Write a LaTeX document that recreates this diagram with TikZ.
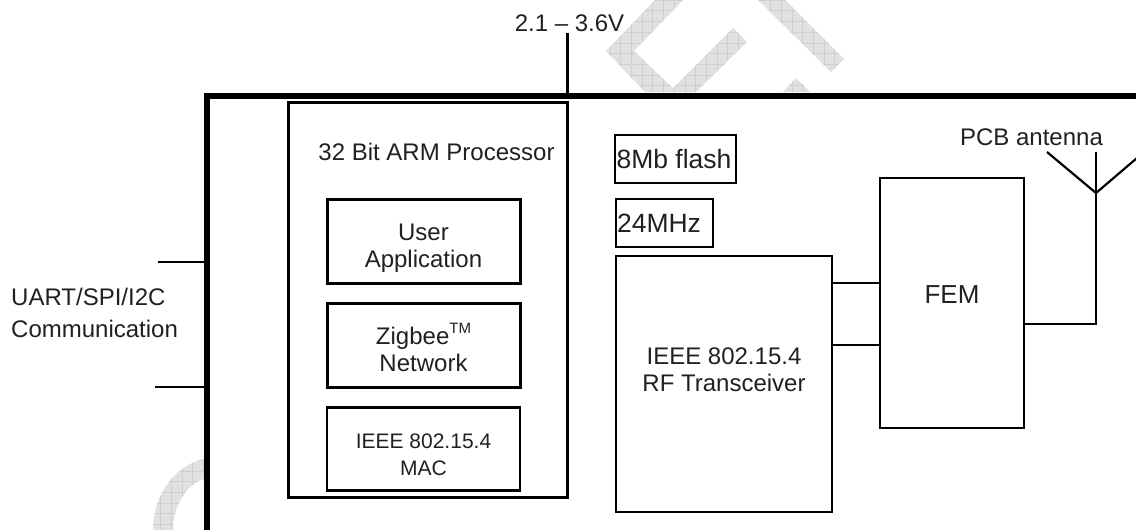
\documentclass[tikz,border=0pt]{standalone}
\usepackage{fontspec}
\setmainfont{Liberation Sans}
\usetikzlibrary{positioning}
\definecolor{inkdark}{HTML}{231F20}
\definecolor{markfill}{HTML}{E1E1E1}
\definecolor{markgrid}{HTML}{CFCFCF}
\newcommand{\topgap}[1]{\rule{0pt}{#1}}
\newcommand{\botgap}[1]{\rule[-#1]{0pt}{#1}}
\newcommand{\sizedfont}[2]{\fontsize{#1}{#2}\selectfont}

\begin{document}
\begin{tikzpicture}[x=1pt,y=-1pt,
		lbl/.style={inner sep=0pt, text=inkdark, align=center, font=\sizedfont{24}{27}},
		block/.style={lbl, draw=black, line width=3pt, outer sep=0pt},
		inner block/.style={block, minimum width=193pt, minimum height=84pt},
		thin block/.style={block, line width=2pt, font=\sizedfont{26.5}{30}},
		wire/.style={line width=2.2pt, draw=black},
		node distance=104pt, on grid]
	\useasboundingbox (0,0) rectangle (1136,530);
	% watermark
	\fill[markfill] (655,0) -- (606,51) -- (645,92) -- (696,92) -- (747,42) -- (733,28) -- (673,88) -- (634,51) -- (683,0) -- cycle;
	\fill[markfill] (758,0) -- (785,0) -- (844,59) -- (831,72) -- cycle;
	\fill[markfill] (783,92) -- (796,78) -- (810,92) -- cycle;
	\fill[markfill] (204,459) .. controls (175,465) and (153,495) .. (153,530) -- (173,530) .. controls (173,505) and (187,484) .. (204,479) -- cycle;
	\begin{scope}
		\clip (655,0) -- (606,51) -- (645,92) -- (696,92) -- (747,42) -- (733,28) -- (673,88) -- (634,51) -- (683,0) -- cycle
			(758,0) -- (785,0) -- (844,59) -- (831,72) -- cycle
			(783,92) -- (796,78) -- (810,92) -- cycle
			(204,459) .. controls (175,465) and (153,495) .. (153,530) -- (173,530) .. controls (173,505) and (187,484) .. (204,479) -- cycle;
		\draw[markgrid, line width=.6pt, step=10.7pt] (0,0) grid (1136,530);
	\end{scope}
	% module outline
	\coordinate (corner) at (207,95.5);
	\draw[line width=6pt] (1136,95.5) -- (corner) -- (207,530);
	% blocks
	\node[block, minimum width=279.5pt, minimum height=395pt] (arm) at (427.75,299.5) {};
	\node[lbl, anchor=base] (armtitle) at (436.5,160) {32 Bit ARM Processor};
	\node[inner block] (user) at (423.5,241) {\topgap{30pt}User\\Application};
	\node[inner block] (zigbee) [below=of user] {\topgap{26pt}Zigbee\raisebox{11pt}{\sizedfont{15}{15}TM}\\Network};
	\node[inner block, line width=2.4pt, minimum height=83pt, font=\sizedfont{21}{27}] (mac) [below=of zigbee] {\topgap{26pt}IEEE 802.15.4\\MAC};
	\node[thin block, minimum width=121pt, minimum height=48pt] (flash) at (675.5,159) {8Mb flash\hspace*{3pt}};
	\node[thin block, minimum width=97pt, minimum height=48pt] (clock) at (664.5,223) {24MHz\hspace*{11pt}};
	\node[block, line width=2.6pt, minimum width=216pt, minimum height=256pt] (rf) at (724,384) {IEEE 802.15.4\\RF Transceiver\botgap{28pt}};
	\node[block, line width=2.6pt, minimum width=144pt, minimum height=250pt, font=\sizedfont{26}{30}] (fem) at (952,303) {FEM\botgap{17pt}};
	% outside labels
	\node[lbl, anchor=base] (supply) at (569.5,31) {2.1 -- 3.6V};
	\node[lbl, anchor=west, align=left, font=\sizedfont{24}{32}] (comms) at (11,313.4) {UART/SPI/I2C\\Communication};
	\node[lbl, anchor=base] (pcb) at (1031.5,145) {PCB antenna};
	% connectors
	\coordinate (vin) at (567.5,33);
	\coordinate (uarta) at (158,262);
	\coordinate (uartb) at (155,387);
	\coordinate (upper) at (0,283);
	\coordinate (lower) at (0,345);
	\coordinate (feedout) at (0,324);
	\coordinate (feed) at (1096,193);
	\coordinate (tipa) at (1047,152);
	\coordinate (tipb) at (1096,152);
	\coordinate (tipc) at (1137,158);
	\path[wire, line width=2.6pt]
		(vin) edge (vin |- corner);
	\path[wire]
		(uarta) edge (uarta -| corner)
		(uartb) edge (uartb -| corner)
		(rf.east |- upper) edge (fem.west |- upper)
		(rf.east |- lower) edge (fem.west |- lower)
		(feed) edge (tipa) edge (tipb) edge (tipc);
	\draw[wire] (fem.east |- feedout) -| (feed);
\end{tikzpicture}
\end{document}
